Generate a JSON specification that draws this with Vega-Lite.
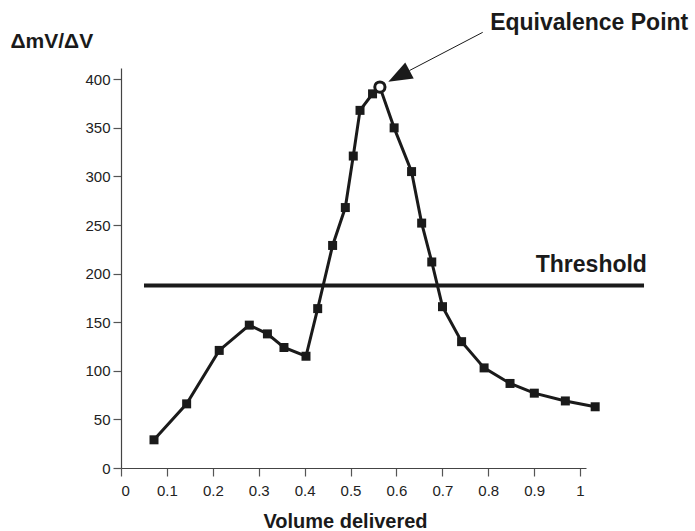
{
  "$schema": "https://vega.github.io/schema/vega-lite/v6.json",
  "autosize": {"type": "none"},
  "padding": {"left": 121, "top": 68, "right": 109, "bottom": 63},
  "width": 465,
  "height": 400,
  "background": "white",
  "config": {
    "view": {"stroke": null},
    "font": "Liberation Sans",
    "axis": {
      "grid": false,
      "domainColor": "#444",
      "domainWidth": 1.2,
      "tickColor": "#555",
      "tickWidth": 1.2,
      "tickSize": 8,
      "labelFont": "Liberation Sans",
      "labelFontSize": 15,
      "labelColor": "#222",
      "titleFont": "Liberation Sans",
      "titleFontWeight": "bold",
      "titleColor": "#1a1a1a"
    }
  },
  "datasets": {
    "curve": [
      {"x": 0.0719, "y": 29, "m": "sq"},
      {"x": 0.143, "y": 66, "m": "sq"},
      {"x": 0.214, "y": 121, "m": "sq"},
      {"x": 0.2795, "y": 147, "m": "sq"},
      {"x": 0.319, "y": 138, "m": "sq"},
      {"x": 0.355, "y": 124, "m": "sq"},
      {"x": 0.403, "y": 115, "m": "sq"},
      {"x": 0.4285, "y": 164, "m": "sq"},
      {"x": 0.461, "y": 229, "m": "sq"},
      {"x": 0.4887, "y": 268, "m": "sq"},
      {"x": 0.506, "y": 321, "m": "sq"},
      {"x": 0.5207, "y": 368, "m": "sq"},
      {"x": 0.548, "y": 385, "m": "sq"},
      {"x": 0.564, "y": 392, "m": "eq"},
      {"x": 0.595, "y": 350, "m": "sq"},
      {"x": 0.633, "y": 305, "m": "sq"},
      {"x": 0.655, "y": 252, "m": "sq"},
      {"x": 0.677, "y": 212, "m": "sq"},
      {"x": 0.7004, "y": 166, "m": "sq"},
      {"x": 0.742, "y": 130, "m": "sq"},
      {"x": 0.791, "y": 103, "m": "sq"},
      {"x": 0.8475, "y": 87, "m": "sq"},
      {"x": 0.9004, "y": 77, "m": "sq"},
      {"x": 0.968, "y": 69, "m": "sq"},
      {"x": 1.033, "y": 63, "m": "sq"}
    ],
    "threshold": [{"x": 0.0501, "x2": 1.1394, "y": 187.8}],
    "arrow": [{"x": 0.788, "y": 448.3, "x2": 0.6285, "y2": 409}],
    "arrowhead": [{"x": 0.6054, "y": 403.3}],
    "labels": [
      {"x": 1.02, "y": 457.6, "label": "Equivalence Point"},
      {"x": 1.0246, "y": 208.7, "label": "Threshold"}
    ]
  },
  "encoding": {
    "x": {
      "field": "x",
      "type": "quantitative",
      "scale": {"domain": [0, 1.013], "nice": false, "zero": false},
      "axis": {
        "values": [0, 0.1, 0.2, 0.3, 0.4, 0.5, 0.6, 0.7, 0.8, 0.9, 1],
        "format": "~g",
        "labelPadding": 7,
        "title": "Volume delivered",
        "titleFontSize": 20,
        "titleX": 224,
        "titleY": 53,
        "titleAnchor": null,
        "titleAlign": "center",
        "titleBaseline": "middle"
      }
    },
    "y": {
      "field": "y",
      "type": "quantitative",
      "scale": {"domain": [0, 411.6], "nice": false, "zero": false},
      "axis": {
        "values": [0, 50, 100, 150, 200, 250, 300, 350, 400],
        "labelPadding": 3,
        "title": "ΔmV/ΔV",
        "titleFontSize": 21,
        "titleAngle": 0,
        "titleAlign": "left",
        "titleBaseline": "middle",
        "titleX": -111,
        "titleY": -27
      }
    }
  },
  "layer": [
    {
      "data": {"name": "threshold"},
      "mark": {"type": "rule", "color": "#1a1a1a", "strokeWidth": 4},
      "encoding": {"x2": {"field": "x2"}}
    },
    {
      "data": {"name": "curve"},
      "mark": {"type": "line", "color": "#1a1a1a", "strokeWidth": 3}
    },
    {
      "data": {"name": "curve"},
      "transform": [{"filter": "datum.m === 'sq'"}],
      "mark": {"type": "point", "shape": "square", "filled": true, "color": "#1a1a1a", "size": 81, "opacity": 1}
    },
    {
      "data": {"name": "curve"},
      "transform": [{"filter": "datum.m === 'eq'"}],
      "mark": {"type": "point", "shape": "circle", "filled": false, "fill": "white", "stroke": "#1a1a1a", "strokeWidth": 3, "size": 105, "opacity": 1, "fillOpacity": 1}
    },
    {
      "data": {"name": "arrow"},
      "mark": {"type": "rule", "color": "#1a1a1a", "strokeWidth": 1},
      "encoding": {"x2": {"field": "x2"}, "y2": {"field": "y2"}}
    },
    {
      "data": {"name": "arrowhead"},
      "mark": {"type": "point", "shape": "M0,-1L-0.75,1L0.75,1Z", "filled": true, "color": "#1a1a1a", "size": 576, "angle": 242, "opacity": 1}
    },
    {
      "data": {"name": "labels"},
      "mark": {"type": "text", "font": "Liberation Sans", "fontWeight": "bold", "fontSize": 23, "color": "#1a1a1a", "align": "center", "baseline": "middle"},
      "encoding": {"text": {"field": "label"}}
    }
  ]
}
